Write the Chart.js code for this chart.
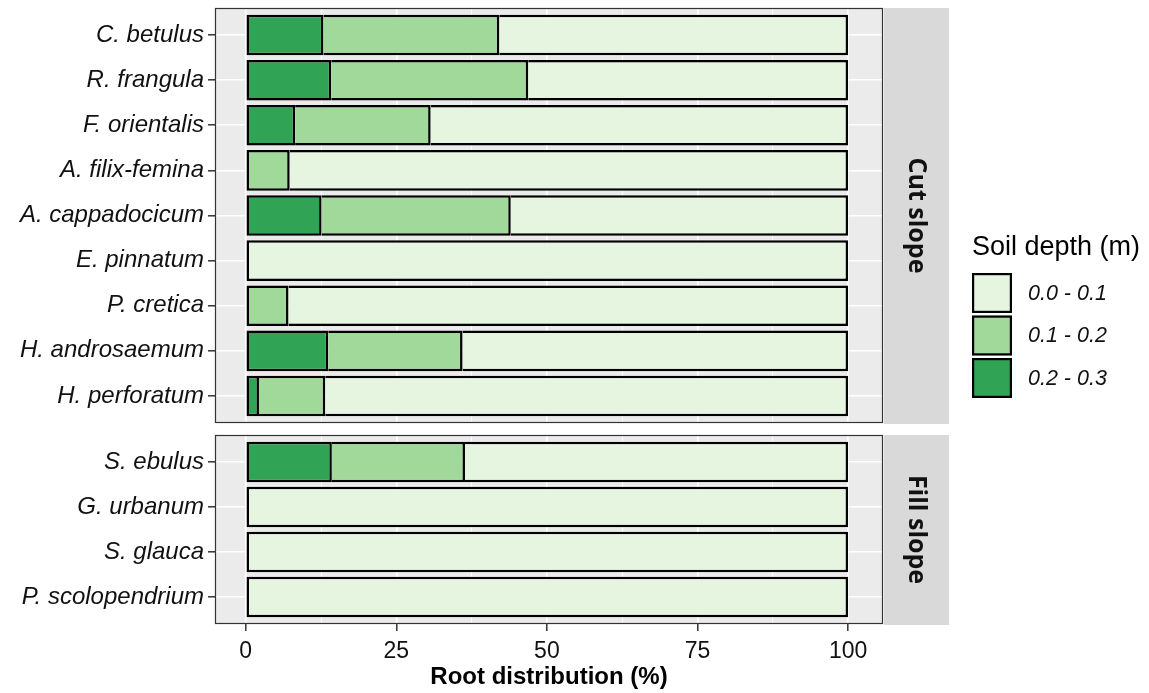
<!DOCTYPE html>
<html>
<head>
<meta charset="utf-8">
<script src="https://cdn.jsdelivr.net/npm/chart.js@4/dist/chart.umd.min.js"></script>
<style>
  html, body { margin: 0; padding: 0; background: #ffffff; }
  #wrap { position: relative; width: 1149px; height: 693px; overflow: hidden; }
  canvas { position: absolute; left: 0; }
  #cut { top: 0; }
  #fill { top: 430px; }
</style>
</head>
<body>
<div id="wrap">
  <canvas id="cut" width="1149" height="430"></canvas>
  <canvas id="fill" width="1149" height="263"></canvas>
</div>
<script>
// Species in each facet, top to bottom
const cutSpecies = ['C. betulus', 'R. frangula', 'F. orientalis', 'A. filix-femina', 'A. cappadocicum',
                    'E. pinnatum', 'P. cretica', 'H. androsaemum', 'H. perforatum'];
const fillSpecies = ['S. ebulus', 'G. urbanum', 'S. glauca', 'P. scolopendrium'];

// Root distribution (%) per soil depth class
const cutDeep = [12.9, 14.2, 8.2, 0, 12.6, 0, 0, 13.7, 2.2];          // 0.2 - 0.3 m
const cutMid  = [29.2, 32.7, 22.5, 7.3, 31.4, 0, 7.1, 22.3, 11.0];    // 0.1 - 0.2 m
const cutTop  = [57.9, 53.1, 69.3, 92.7, 56.0, 100, 92.9, 64.0, 86.8]; // 0.0 - 0.1 m

const fillDeep = [14.3, 0, 0, 0];
const fillMid  = [22.1, 0, 0, 0];
const fillTop  = [63.6, 100, 100, 100];

// Depth classes (stacking order: deepest first, starting at 0)
const depthLabels = ['0.2 - 0.3', '0.1 - 0.2', '0.0 - 0.1'];
const depthColors = ['#31A354', '#A1D99B', '#E5F5E0'];

// X axis ticks
const xMajor = [0, 25, 50, 75, 100];
const xMinor = [12.5, 37.5, 62.5, 87.5];
const xTicks = [...xMajor, ...xMinor].sort((a, b) => a - b);

Chart.defaults.font.family = "'Liberation Sans', Arial, sans-serif";
Chart.defaults.color = '#111111';

const PANEL_BG = '#EBEBEB';
const STRIP_BG = '#D9D9D9';

// Panel background, border, facet strip and (optionally) legend
const facetPlugin = {
  id: 'facet',
  beforeDraw(chart) {
    const a = chart.chartArea, ctx = chart.ctx;
    ctx.save();
    ctx.fillStyle = PANEL_BG;
    ctx.fillRect(a.left, a.top, a.right - a.left, a.bottom - a.top);
    ctx.restore();
  },
  afterDraw(chart, args, opts) {
    const a = chart.chartArea, ctx = chart.ctx;
    ctx.save();
    // panel border
    ctx.strokeStyle = '#333333';
    ctx.lineWidth = 1.2;
    ctx.strokeRect(a.left + 0.5, a.top + 0.5, a.right - a.left - 1, a.bottom - a.top - 1);
    // strip
    const sx = a.right + 1, sw = 65;
    ctx.fillStyle = STRIP_BG;
    ctx.fillRect(sx, a.top, sw, a.bottom - a.top + 1);
    ctx.translate(sx + sw / 2, (a.top + a.bottom) / 2);
    ctx.rotate(Math.PI / 2);
    ctx.fillStyle = '#111111';
    ctx.font = "bold 25px 'Open Sans', 'Liberation Sans', sans-serif";
    ctx.textAlign = 'center';
    ctx.textBaseline = 'middle';
    ctx.fillText(opts.label, 0, 0);
    ctx.restore();

    if (opts.legend) {
      const ds = chart.data.datasets.slice().reverse();
      const lx = 972, ty = 248, ky0 = 273, step = 42.5, ks = 40;
      ctx.save();
      ctx.fillStyle = '#000';
      ctx.font = "27px 'Liberation Sans', Arial, sans-serif";
      ctx.textAlign = 'left';
      ctx.textBaseline = 'middle';
      ctx.fillText('Soil depth (m)', lx, ty);
      ds.forEach((d, i) => {
        const y = ky0 + i * step;
        ctx.fillStyle = d.backgroundColor;
        ctx.fillRect(lx, y, ks, ks);
        ctx.strokeStyle = '#000';
        ctx.lineWidth = 2.2;
        ctx.strokeRect(lx + 1.1, y + 1.1, ks - 2.2, ks - 2.2);
        ctx.fillStyle = '#111111';
        ctx.font = "italic 21.5px 'Liberation Sans', Arial, sans-serif";
        ctx.fillText(d.label, 1028, y + ks / 2 + 1);
      });
      ctx.restore();
    }
  }
};

function makeDatasets(series) {
  return series.map((vals, k) => ({
    label: depthLabels[k],
    data: vals.map((v, i) => ({ x: v, y: i + 1 })),
    backgroundColor: depthColors[k],
    borderColor: '#000000',
    borderWidth: 2.5,
    // the previous segment's border already marks the shared edge
    borderSkipped: (c) => {
      let before = 0;
      for (let j = 0; j < k; j++) before += series[j][c.dataIndex];
      return before > 0 ? 'start' : false;
    },
    barPercentage: 0.9,
    categoryPercentage: 1.0
  }));
}

function gridWidth(c) { return xMajor.includes(c.tick && c.tick.value) ? 1.6 : 0.8; }

function makeChart(id, species, series, opts) {
  const isBottom = opts.bottom;
  return new Chart(document.getElementById(id), {
    type: 'bar',
    data: { datasets: makeDatasets(series) },
    plugins: [facetPlugin],
    options: {
      indexAxis: 'y',
      responsive: false,
      animation: false,
      devicePixelRatio: 1,
      layout: { padding: { left: 0, right: 266, top: opts.padTop, bottom: opts.padBottom } },
      plugins: {
        legend: { display: false },
        tooltip: { enabled: false },
        facet: { label: opts.label, legend: opts.legend }
      },
      scales: {
        x: {
          type: 'linear',
          stacked: true,
          offset: false,
          min: -5.1,
          max: 105.8,
          afterBuildTicks: s => { s.ticks = xTicks.map(v => ({ value: v })); },
          afterFit: s => { s.height = isBottom ? 69 : 0; },
          grid: {
            offset: false,
            color: '#ffffff',
            lineWidth: gridWidth,
            drawTicks: isBottom,
            tickLength: 7,
            tickWidth: 1.5,
            tickColor: c => xMajor.includes(c.tick && c.tick.value) ? '#333333' : 'rgba(0,0,0,0)'
          },
          border: { display: false },
          ticks: {
            display: isBottom,
            autoSkip: false,
            maxRotation: 0,
            padding: 7,
            color: '#111111',
            font: { size: 23 },
            callback: v => xMajor.includes(v) ? String(v) : ''
          },
          title: {
            display: isBottom,
            text: 'Root distribution (%)',
            color: '#000000',
            font: { size: 24, weight: 'bold', lineHeight: 1.2 },
            padding: { top: 0, bottom: 1 }
          }
        },
        y: {
          type: 'linear',
          stacked: true,
          offset: false,
          reverse: true,
          min: 0.4,
          max: species.length + 0.6,
          afterBuildTicks: s => { s.ticks = species.map((_, i) => ({ value: i + 1 })); },
          afterFit: s => { s.width = 215; s.paddingTop = 0; s.paddingBottom = 0; },
          grid: {
            offset: false,
            color: '#ffffff',
            lineWidth: 1.6,
            tickLength: 7,
            tickWidth: 1.5,
            tickColor: '#333333'
          },
          border: { display: false },
          ticks: {
            autoSkip: false,
            padding: 4,
            color: '#111111',
            font: { size: 24, style: 'italic' },
            callback: v => species[v - 1]
          }
        }
      }
    }
  });
}

makeChart('cut', cutSpecies, [cutDeep, cutMid, cutTop],
  { label: 'Cut slope', legend: true, bottom: false, padTop: 8, padBottom: 7 });
makeChart('fill', fillSpecies, [fillDeep, fillMid, fillTop],
  { label: 'Fill slope', legend: false, bottom: true, padTop: 5, padBottom: 0 });
</script>
</body>
</html>
